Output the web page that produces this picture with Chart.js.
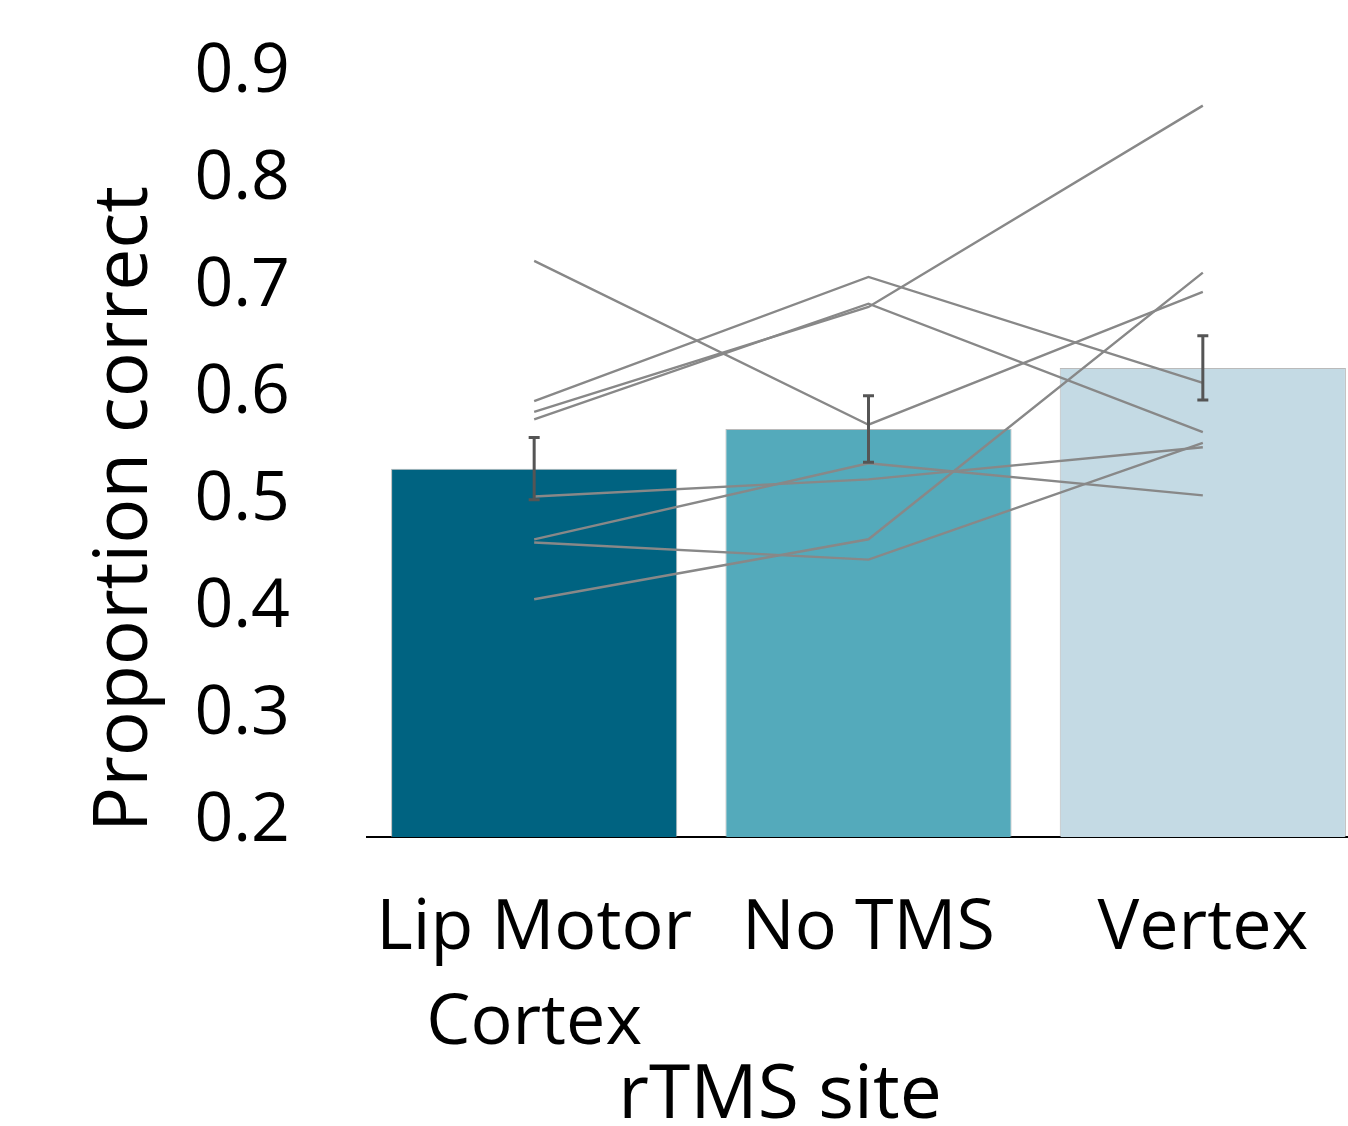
<!DOCTYPE html>
<html><head><meta charset="utf-8">
<script src="https://cdn.jsdelivr.net/npm/chart.js@4.4.1/dist/chart.umd.min.js"></script>
<style>html,body{margin:0;padding:0;background:#fff;overflow:hidden;}canvas{display:block;}</style>
</head><body>
<canvas id="c" width="1370" height="1126" style="width:1370px;height:1126px"></canvas>
<script>
const categories = [['Lip Motor', 'Cortex'], 'No TMS', 'Vertex'];
const meanValues = [0.530, 0.567, 0.624];
const errorValues = [0.029, 0.031, 0.030];
const subject1 = [0.724, 0.571, 0.695];
const subject2 = [0.593, 0.709, 0.610];
const subject3 = [0.583, 0.681, 0.869];
const subject4 = [0.576, 0.684, 0.564];
const subject5 = [0.504, 0.520, 0.550];
const subject6 = [0.464, 0.535, 0.505];
const subject7 = [0.461, 0.445, 0.554];
const subject8 = [0.408, 0.464, 0.713];
const subjects = [subject1, subject2, subject3, subject4, subject5, subject6, subject7, subject8];
const yTickValues = [0.2, 0.3, 0.4, 0.5, 0.6, 0.7, 0.8, 0.9];
const barColors = ['#006381', '#54aabb', '#c4dae4'];
const yTitle = 'Proportion correct';
const xTitle = 'rTMS site';

const FONT = "'Open Sans', sans-serif";

const overlay = {
  id: 'overlay',
  afterDatasetsDraw(chart) {
    const ctx = chart.ctx, xs = chart.scales.x, ys = chart.scales.y;
    ctx.save();
    ctx.strokeStyle = '#555555';
    ctx.lineWidth = 3;
    meanValues.forEach((m, i) => {
      const px = xs.getPixelForValue(i);
      const t = ys.getPixelForValue(m + errorValues[i]);
      const b = ys.getPixelForValue(m - errorValues[i]);
      ctx.beginPath();
      ctx.moveTo(px, t); ctx.lineTo(px, b);
      ctx.moveTo(px - 5.5, t); ctx.lineTo(px + 5.5, t);
      ctx.moveTo(px - 5.5, b); ctx.lineTo(px + 5.5, b);
      ctx.stroke();
    });
    ctx.restore();
  },
  afterDraw(chart) {
    const ctx = chart.ctx;
    ctx.save();
    ctx.fillStyle = '#000';
    ctx.font = "75px " + FONT;
    ctx.textAlign = 'center';
    ctx.textBaseline = 'middle';
    ctx.fillText(xTitle, 780, 1097);
    ctx.translate(126, 509);
    ctx.rotate(-Math.PI / 2);
    ctx.fillText(yTitle, 0, 0);
    ctx.restore();
  }
};

const datasets = [];
subjects.forEach((s, i) => {
  datasets.push({
    type: 'line', label: 'S' + (i + 1), data: s,
    borderColor: '#888888', borderWidth: 2.4, pointRadius: 0, fill: false, order: 0, tension: 0
  });
});
datasets.push({
  type: 'bar', label: 'Mean', data: meanValues,
  backgroundColor: barColors, borderColor: 'rgba(140,140,140,0.6)', borderWidth: 1,
  barPercentage: 0.856, categoryPercentage: 1, order: 1
});

new Chart(document.getElementById('c'), {
  type: 'bar',
  data: { labels: categories, datasets },
  options: {
    responsive: false, animation: false, devicePixelRatio: 1,
    layout: { padding: { top: 51, left: 0, right: 0, bottom: 0 } },
    plugins: { legend: { display: false }, tooltip: { enabled: false } },
    scales: {
      x: {
        grid: { display: false, drawTicks: false },
        border: { display: true, color: '#000', width: 2 },
        ticks: { color: '#000', font: { family: FONT, size: 70, lineHeight: 1.357 }, padding: 45, maxRotation: 0, autoSkip: false },
        afterFit(s) { s.height = 289; s.paddingLeft = 0; s.paddingRight = 0; }
      },
      y: {
        min: 0.186, max: 0.92,
        grid: { display: false, drawTicks: false },
        border: { display: false },
        afterBuildTicks(s) { s.ticks = yTickValues.map(v => ({ value: v })); },
        ticks: { color: '#000', font: { family: FONT, size: 68 }, padding: 77, callback: v => v.toFixed(1) },
        afterFit(s) { s.width = 367; s.paddingTop = 0; s.paddingBottom = 0; }
      }
    }
  },
  plugins: [overlay]
});
</script>
</body></html>
